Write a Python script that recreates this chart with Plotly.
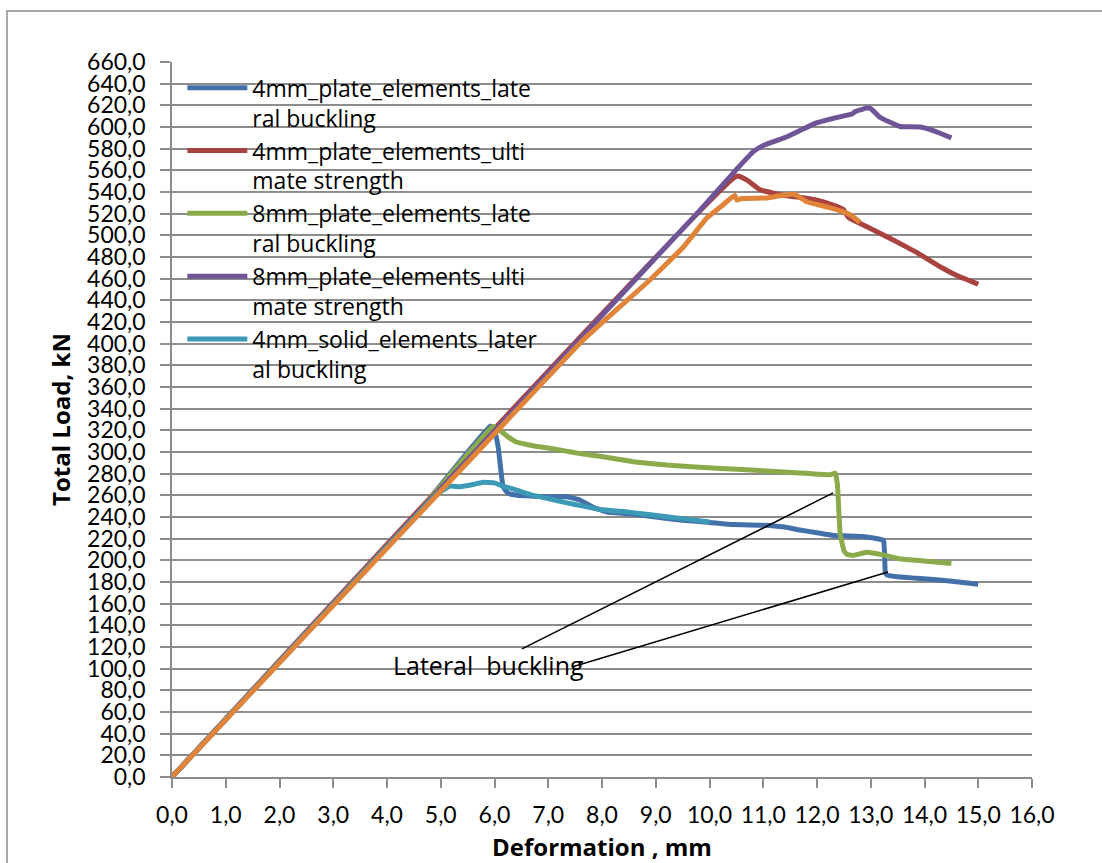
import plotly.graph_objects as go

# ---------------- data ----------------
names = [
    "4mm_plate_elements_late<br>ral buckling",
    "4mm_plate_elements_ulti<br>mate strength",
    "8mm_plate_elements_late<br>ral buckling",
    "8mm_plate_elements_ulti<br>mate strength",
    "4mm_solid_elements_later<br>al buckling",
    "4mm_solid_elements_ultimate strength",
]

blue_x = [0, 4.6, 5.92, 6.0, 6.07, 6.16, 6.25, 6.42, 7.03, 7.35, 7.59, 7.83, 8.09, 8.5,
          9.0, 9.5, 10.0, 10.44, 11.0, 11.37, 11.68, 12.0, 12.3, 12.6, 12.93, 13.17,
          13.24, 13.27, 13.3, 13.54, 13.86, 14.47, 15.0]
blue_y = [0, 245, 324, 320, 304, 268, 262, 260, 258.6, 258.6, 255.7, 249, 244.6, 243,
          240, 237, 235, 233, 232.5, 231, 228, 225.5, 223, 222.5, 221.5, 219.5,
          218.5, 189, 186.5, 184.6, 183.5, 181, 178]

red_x = [0, 10.51, 10.7, 10.94, 11.37, 11.7, 12.0, 12.3, 12.49, 12.55, 12.6, 12.93,
         13.41, 13.86, 14.29, 14.6, 15.0]
red_y = [0, 554.7, 551, 542, 537, 535, 532.5, 528, 524, 519, 516, 508,
         496, 484, 471, 463, 455]

green_x = [0, 4.6, 5.97, 6.1, 6.25, 6.42, 6.79, 7.03, 7.53, 7.96, 8.58, 9.2, 10.13,
           11.07, 11.68, 12.24, 12.34, 12.38, 12.43, 12.5, 12.56, 12.67, 12.8, 12.93,
           13.23, 13.54, 13.86, 14.2, 14.5]
green_y = [0, 245, 323.5, 320, 314, 309, 305, 303.5, 299, 296, 291, 288, 285,
           282.5, 280.6, 279, 280.6, 270, 225, 209, 205.5, 204.5, 206, 207.5,
           205, 201.5, 200, 198.5, 197]

purple_x = [0, 9.82, 10.44, 10.81, 11.0, 11.44, 12.0, 12.56, 12.65, 12.72, 12.93, 13.0,
            13.17, 13.54, 13.92, 14.2, 14.5]
purple_y = [0, 523, 557.5, 577, 583, 591, 604, 611, 612, 614.5, 617.5, 617,
            609, 600.5, 600, 596, 590]

teal_x = [0, 4.93, 5.05, 5.17, 5.36, 5.6, 5.79, 6.0, 6.1, 6.4, 6.72, 7.0, 7.35, 7.65,
          7.96, 8.5, 8.9, 9.5, 10.0]
teal_y = [0, 261, 265, 268.5, 268, 270, 272, 271.5, 269.5, 265, 260, 257, 253, 250,
          247, 244.5, 242, 238.5, 235.5]

orange_x = [0, 5.0, 7.65, 8.89, 9.51, 9.95, 10.2, 10.47, 10.51, 10.6, 11.07, 11.5,
            11.6, 11.81, 12.2, 12.49, 12.65, 12.8]
orange_y = [0, 264, 403.4, 458.8, 489, 516, 526, 537, 532.5, 534, 534.5, 538,
            537.5, 531, 526, 521.6, 518, 512]

series_x = [blue_x, red_x, green_x, purple_x, teal_x, orange_x]
series_y = [blue_y, red_y, green_y, purple_y, teal_y, orange_y]
colors = ["#4470AA", "#A9433F", "#8AAA4B", "#6F5597", "#3D9AB6", "#E0843A"]
in_legend = [True, True, True, True, True, False]

# annotation: "Lateral  buckling" with two leader lines
note_text = "Lateral  buckling"
note_pos = (5.88, 103.4)
leader_starts = [(6.51, 118.2), (7.44, 101.5)]
leader_ends = [(12.30, 262.2), (13.32, 189.2)]

x_ticks = [i * 1.0 for i in range(0, 17)]
y_ticks = [i * 20.0 for i in range(0, 34)]

# ---------------- figure ----------------
FONT = "Open Sans"
TICKFONT = "Lato"
GRID = "#8C8C8C"

fig = go.Figure()
for nm, xs, ys, col, leg in zip(names, series_x, series_y, colors, in_legend):
    fig.add_trace(go.Scatter(
        x=xs, y=ys, mode="lines", name=nm, showlegend=leg,
        line=dict(color=col, width=5, shape="spline", smoothing=0.3),
    ))

for (x0, y0), (x1, y1) in zip(leader_starts, leader_ends):
    fig.add_shape(type="line", xref="x", yref="y", x0=x0, y0=y0, x1=x1, y1=y1,
                  line=dict(color="black", width=1.5))

fig.add_annotation(x=note_pos[0], y=note_pos[1], xref="x", yref="y",
                   text=note_text, showarrow=False,
                   font=dict(family=FONT, size=25, color="black"))

# outer chart frame
fig.add_shape(type="rect", xref="paper", yref="paper",
              x0=-0.1919, y0=-0.13, x1=1.0907, y1=1.0713,
              line=dict(color="#8C8C8C", width=1.5), layer="below")

fig.update_layout(
    width=1102, height=863,
    margin=dict(l=172, r=70, t=62, b=86, autoexpand=False),
    paper_bgcolor="white", plot_bgcolor="white",
    separators=", ",
    font=dict(family=FONT, size=23, color="black"),
    showlegend=True,
    legend=dict(
        x=0.012, y=0.994, xanchor="left", yanchor="top",
        bgcolor="rgba(0,0,0,0)", borderwidth=0,
        font=dict(family=FONT, size=23, color="black"),
        valign="top", itemwidth=60, tracegroupgap=0,
    ),
    xaxis=dict(
        range=[0, 16], tickmode="array", tickvals=x_ticks, tickformat=".1f",
        showgrid=False, zeroline=False, automargin=False,
        showline=True, linecolor=GRID, linewidth=1.5,
        ticks="outside", ticklen=9, tickcolor=GRID, tickwidth=1.5,
        ticklabelstandoff=8,
        tickfont=dict(family=TICKFONT, size=23, color="black"),
        title=dict(text="<b>Deformation , mm</b>", standoff=13,
                   font=dict(family=FONT, size=24, color="black")),
    ),
    yaxis=dict(
        range=[0, 660], tickmode="array", tickvals=y_ticks, tickformat=".1f",
        showgrid=True, gridcolor=GRID, gridwidth=1.5, zeroline=False,
        automargin=False,
        showline=True, linecolor=GRID, linewidth=1.5,
        ticks="outside", ticklen=10, tickcolor=GRID, tickwidth=1.5,
        ticklabelstandoff=10,
        tickfont=dict(family=TICKFONT, size=23, color="black"),
        title=dict(text="<b>Total Load, kN</b>", standoff=10,
                   font=dict(family=FONT, size=24, color="black")),
    ),
)

fig.write_html("out.html", config={"displayModeBar": False},
               post_script="document.body.style.margin='0px';")
